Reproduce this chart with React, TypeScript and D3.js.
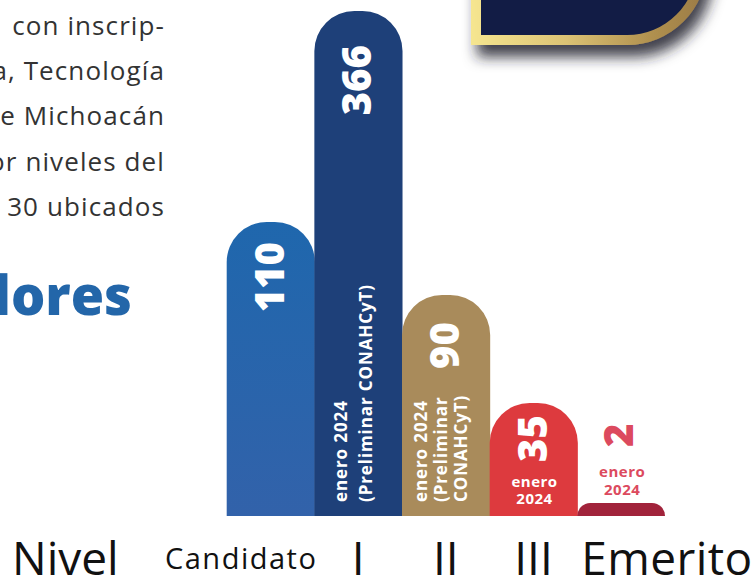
import React from "react";
import * as d3 from "d3";

const categories = ["Candidato", "I", "II", "III", "Emerito"];
const values = [110, 366, 90, 35, 2];
const valueLabels = ["110", "366", "90", "35", "2"];
const notes: string[][] = [
  [],
  ["enero 2024", "(Preliminar CONAHCyT)"],
  ["enero 2024", "(Preliminar", "CONAHCyT)"],
  ["enero", "2024"],
  ["enero", "2024"],
];
const paragraphLines = [" con inscrip-", "a, Tecnología", "e Michoacán", "or niveles del", "30 ubicados"];
const headingText = "lores";
const axisTitle = "Nivel";

const W = 753;
const H = 579;
const baseY = 516;

// infographic is not to a linear scale; a polylinear scale matched to the artwork
const yScale = d3
  .scaleLinear()
  .domain([0, 2, 35, 90, 110, 366])
  .range([baseY, 503, 403, 295, 222, 11]);

const xScale = d3.scaleBand<string>().domain(categories).range([226.7, 665]).padding(0);

const barColors = ["url(#gCand)", "#1e4079", "#a98b5b", "#dd3a3e", "#a1233b"];
const valueGap = [20, 34, 27, 12, 0];
const noteStyle = ["rot", "rot", "rot", "flat", "flat"];
const noteLineH = [0, 25, 20, 17.5, 18];

function topRounded(x: number, y: number, w: number, h: number, r0: number) {
  const r = Math.min(r0, w / 2, h);
  return `M${x},${y + h} V${y + r} A${r},${r} 0 0 1 ${x + r},${y} H${x + w - r} A${r},${r} 0 0 1 ${x + w},${y + r} V${y + h} Z`;
}

const numFont = "'Open Sans', 'Noto Sans', sans-serif";

export default function App() {
  const bw = xScale.bandwidth();
  return (
    <svg
      width={W}
      height={H}
      viewBox={`0 0 ${W} ${H}`}
      style={{ position: "absolute", left: 0, top: 0, display: "block", background: "#fff" }}
    >
      <defs>
        <linearGradient id="gCand" x1="0" y1="0" x2="0" y2="1">
          <stop offset="0" stopColor="#1f67ad" />
          <stop offset="1" stopColor="#3262aa" />
        </linearGradient>
        <linearGradient id="gGold" x1="471" y1="0" x2="707" y2="0" gradientUnits="userSpaceOnUse">
          <stop offset="0" stopColor="#f6e690" />
          <stop offset="0.4" stopColor="#dcc375" />
          <stop offset="0.75" stopColor="#b29250" />
          <stop offset="1" stopColor="#9a7a45" />
        </linearGradient>
        <filter id="shadow" x="-20%" y="-20%" width="150%" height="200%">
          <feGaussianBlur in="SourceAlpha" stdDeviation="7" />
          <feOffset dx="6" dy="12" result="b" />
          <feFlood floodColor="#22222e" floodOpacity="0.85" />
          <feComposite in2="b" operator="in" />
          <feMerge>
            <feMergeNode />
            <feMergeNode in="SourceGraphic" />
          </feMerge>
        </filter>
      </defs>

      {/* top-right decorative box */}
      <path d="M471,-30 V45 H627 A80,80 0 0 0 707,-35 V-30 Z" fill="url(#gGold)" filter="url(#shadow)" />
      <path d="M481,-30 V35 H627 A70,70 0 0 0 697,-35 V-30 Z" fill="#121c45" />

      {/* paragraph */}
      {paragraphLines.map((t, i) => (
        <text
          key={i}
          x={165}
          y={35 + i * 45.2}
          textAnchor="end"
          fontFamily="'Open Sans', sans-serif"
          fontSize={26}
          letterSpacing={1.1}
          fill="#333"
          xmlSpace="preserve"
          style={{ whiteSpace: "pre" }}
        >
          {t}
        </text>
      ))}
      <text x={132} y={315} textAnchor="end" fontFamily={numFont} fontWeight={800} fontSize={54} fill="#2366a9">
        {headingText}
      </text>

      {/* bars */}
      {categories.map((c, i) => {
        const x = xScale(c)!;
        const top = yScale(values[i]);
        const h = baseY - top;
        const cx = x + bw / 2;
        const inside = h > 40;
        const lines = notes[i];
        let valueEl: React.ReactNode = null;
        let noteEls: React.ReactNode = null;
        const fs = 40;
        const pink = "#dc4a5e";
        if (noteStyle[i] === "rot") {
          const lh = noteLineH[i];
          const n = lines.length;
          const firstBase = cx - ((n - 1) * lh) / 2 + 6 - 5;
          noteEls = lines.map((t, k) => (
            <text
              key={k}
              transform={`translate(${firstBase + k * lh},502) rotate(-90)`}
              fontFamily={numFont}
              fontWeight={700}
              fontSize={17}
              letterSpacing={0.9}
              fill="#fff"
            >
              {t}
            </text>
          ));
        } else if (lines.length) {
          const lh = noteLineH[i];
          const lastBase = inside ? baseY - 12 : top - 8;
          noteEls = lines.map((t, k) => (
            <text
              key={k}
              x={cx + 1}
              y={lastBase - (lines.length - 1 - k) * lh}
              textAnchor="middle"
              fontFamily={numFont}
              fontWeight={700}
              fontSize={15}
              letterSpacing={0.5}
              fill={inside ? "#fff" : pink}
            >
              {t}
            </text>
          ));
        }
        if (inside) {
          valueEl = (
            <text
              transform={`translate(${cx + 0.357 * fs - 1},${top + valueGap[i]}) rotate(-90)`}
              textAnchor="end"
              fontFamily={numFont}
              fontWeight={800}
              fontSize={fs}
              fill="#fff"
            >
              {valueLabels[i]}
            </text>
          );
        } else {
          const notesTop = top - 8 - (lines.length - 1) * noteLineH[i] - 11;
          valueEl = (
            <text
              transform={`translate(${cx + 0.357 * fs - 2},${notesTop - 19}) rotate(-90)`}
              textAnchor="start"
              fontFamily={numFont}
              fontWeight={800}
              fontSize={fs}
              fill={pink}
            >
              {valueLabels[i]}
            </text>
          );
        }
        return (
          <g key={c}>
            <path d={topRounded(x, top, bw + (i < categories.length - 1 ? 0.5 : 0), h, 40)} fill={barColors[i]} />
            {valueEl}
            {noteEls}
          </g>
        );
      })}

      {/* category labels */}
      <text x={12} y={575} fontFamily="'Open Sans', sans-serif" fontSize={46} fill="#111">
        {axisTitle}
      </text>
      {categories.map((c, i) => {
        const x = xScale(c)!;
        const cx = x + bw / 2;
        const first = i === 0;
        const last = i === categories.length - 1;
        return (
          <text
            key={c}
            x={first ? x + bw + 3 : last ? x + 4 : cx}
            y={first ? 569 : 575}
            textAnchor={first ? "end" : last ? "start" : "middle"}
            fontFamily="'Open Sans', sans-serif"
            fontSize={first ? 29 : 46}
            letterSpacing={first ? 1.5 : last ? 0.4 : 0}
            fill="#111"
          >
            {c}
          </text>
        );
      })}
    </svg>
  );
}
